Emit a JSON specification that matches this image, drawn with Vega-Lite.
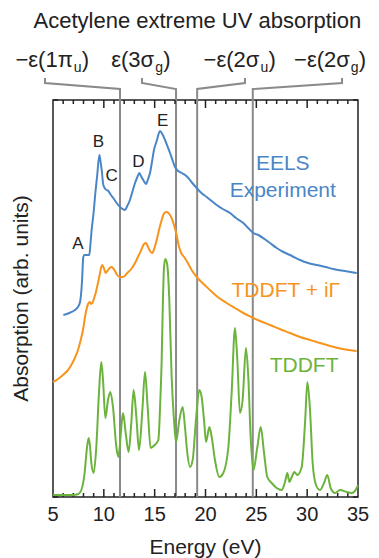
{
  "$schema": "https://vega.github.io/schema/vega-lite/v6.json",
  "width": 305,
  "height": 397,
  "autosize": {"type": "none"},
  "padding": {"left": 53, "top": 100, "right": 21, "bottom": 61},
  "config": {
    "font": "Liberation Sans",
    "view": {"stroke": "#222", "strokeWidth": 1.5},
    "axis": {"grid": false, "domainColor": "#222", "tickColor": "#222", "tickWidth": 1.5, "domainWidth": 1.5, "labelColor": "#222", "titleColor": "#222", "titleFontWeight": "normal", "labelFont": "Liberation Sans", "titleFont": "Liberation Sans"}
  },
  "datasets": {
    "curves": [
      {"series": "EELS", "E": 6.02, "A": 182}, {"series": "EELS", "E": 6.6, "A": 184}, {"series": "EELS", "E": 7.16, "A": 187}, {"series": "EELS", "E": 7.45, "A": 190}, {"series": "EELS", "E": 7.66, "A": 195}, {"series": "EELS", "E": 7.85, "A": 215}, {"series": "EELS", "E": 7.98, "A": 240}, {"series": "EELS", "E": 8.08, "A": 242}, {"series": "EELS", "E": 8.57, "A": 242}, {"series": "EELS", "E": 8.7, "A": 255}, {"series": "EELS", "E": 8.8, "A": 267}, {"series": "EELS", "E": 9.0, "A": 285}, {"series": "EELS", "E": 9.13, "A": 300}, {"series": "EELS", "E": 9.35, "A": 322}, {"series": "EELS", "E": 9.56, "A": 342}, {"series": "EELS", "E": 9.68, "A": 335}, {"series": "EELS", "E": 9.79, "A": 327}, {"series": "EELS", "E": 9.95, "A": 312}, {"series": "EELS", "E": 10.15, "A": 308}, {"series": "EELS", "E": 10.44, "A": 306}, {"series": "EELS", "E": 10.7, "A": 302}, {"series": "EELS", "E": 10.93, "A": 299}, {"series": "EELS", "E": 11.26, "A": 294}, {"series": "EELS", "E": 11.59, "A": 290}, {"series": "EELS", "E": 11.85, "A": 288}, {"series": "EELS", "E": 12.08, "A": 287}, {"series": "EELS", "E": 12.3, "A": 291}, {"series": "EELS", "E": 12.57, "A": 297}, {"series": "EELS", "E": 12.8, "A": 305}, {"series": "EELS", "E": 13.07, "A": 314}, {"series": "EELS", "E": 13.3, "A": 320}, {"series": "EELS", "E": 13.49, "A": 324}, {"series": "EELS", "E": 13.7, "A": 320}, {"series": "EELS", "E": 13.88, "A": 317}, {"series": "EELS", "E": 14.15, "A": 313}, {"series": "EELS", "E": 14.35, "A": 318}, {"series": "EELS", "E": 14.54, "A": 324}, {"series": "EELS", "E": 14.75, "A": 336}, {"series": "EELS", "E": 14.93, "A": 347}, {"series": "EELS", "E": 15.2, "A": 356}, {"series": "EELS", "E": 15.52, "A": 366}, {"series": "EELS", "E": 15.75, "A": 363}, {"series": "EELS", "E": 16.02, "A": 357}, {"series": "EELS", "E": 16.25, "A": 351}, {"series": "EELS", "E": 16.51, "A": 344}, {"series": "EELS", "E": 16.75, "A": 337}, {"series": "EELS", "E": 17.0, "A": 330}, {"series": "EELS", "E": 17.3, "A": 326}, {"series": "EELS", "E": 17.66, "A": 324}, {"series": "EELS", "E": 18.0, "A": 322}, {"series": "EELS", "E": 18.31, "A": 319}, {"series": "EELS", "E": 18.7, "A": 314}, {"series": "EELS", "E": 19.13, "A": 309}, {"series": "EELS", "E": 19.6, "A": 304}, {"series": "EELS", "E": 20.12, "A": 300}, {"series": "EELS", "E": 20.6, "A": 296}, {"series": "EELS", "E": 21.1, "A": 292}, {"series": "EELS", "E": 21.7, "A": 288}, {"series": "EELS", "E": 22.41, "A": 284}, {"series": "EELS", "E": 23.0, "A": 279}, {"series": "EELS", "E": 23.72, "A": 274}, {"series": "EELS", "E": 24.2, "A": 269}, {"series": "EELS", "E": 24.7, "A": 264}, {"series": "EELS", "E": 25.2, "A": 262}, {"series": "EELS", "E": 25.8, "A": 258}, {"series": "EELS", "E": 26.34, "A": 254}, {"series": "EELS", "E": 27.0, "A": 249}, {"series": "EELS", "E": 27.66, "A": 245}, {"series": "EELS", "E": 28.5, "A": 241}, {"series": "EELS", "E": 29.3, "A": 237}, {"series": "EELS", "E": 30.1, "A": 234}, {"series": "EELS", "E": 30.93, "A": 232}, {"series": "EELS", "E": 31.8, "A": 230}, {"series": "EELS", "E": 32.57, "A": 228}, {"series": "EELS", "E": 33.7, "A": 226}, {"series": "EELS", "E": 34.87, "A": 224},

      {"series": "TDDFT+iG", "E": 5.0, "A": 115}, {"series": "TDDFT+iG", "E": 5.5, "A": 118}, {"series": "TDDFT+iG", "E": 5.98, "A": 122}, {"series": "TDDFT+iG", "E": 6.4, "A": 126}, {"series": "TDDFT+iG", "E": 6.8, "A": 132}, {"series": "TDDFT+iG", "E": 7.15, "A": 139}, {"series": "TDDFT+iG", "E": 7.46, "A": 147}, {"series": "TDDFT+iG", "E": 7.75, "A": 158}, {"series": "TDDFT+iG", "E": 7.95, "A": 167}, {"series": "TDDFT+iG", "E": 8.15, "A": 180}, {"series": "TDDFT+iG", "E": 8.28, "A": 187}, {"series": "TDDFT+iG", "E": 8.45, "A": 193}, {"series": "TDDFT+iG", "E": 8.61, "A": 195}, {"series": "TDDFT+iG", "E": 8.75, "A": 193}, {"series": "TDDFT+iG", "E": 8.87, "A": 194}, {"series": "TDDFT+iG", "E": 9.05, "A": 199}, {"series": "TDDFT+iG", "E": 9.2, "A": 204}, {"series": "TDDFT+iG", "E": 9.4, "A": 213}, {"series": "TDDFT+iG", "E": 9.59, "A": 222}, {"series": "TDDFT+iG", "E": 9.75, "A": 230}, {"series": "TDDFT+iG", "E": 9.85, "A": 232}, {"series": "TDDFT+iG", "E": 10.0, "A": 229}, {"series": "TDDFT+iG", "E": 10.18, "A": 224}, {"series": "TDDFT+iG", "E": 10.35, "A": 226}, {"series": "TDDFT+iG", "E": 10.57, "A": 229}, {"series": "TDDFT+iG", "E": 10.75, "A": 230}, {"series": "TDDFT+iG", "E": 10.9, "A": 229}, {"series": "TDDFT+iG", "E": 11.1, "A": 226}, {"series": "TDDFT+iG", "E": 11.3, "A": 222}, {"series": "TDDFT+iG", "E": 11.6, "A": 220}, {"series": "TDDFT+iG", "E": 11.9, "A": 220}, {"series": "TDDFT+iG", "E": 12.3, "A": 224}, {"series": "TDDFT+iG", "E": 12.7, "A": 228}, {"series": "TDDFT+iG", "E": 13.07, "A": 234}, {"series": "TDDFT+iG", "E": 13.4, "A": 241}, {"series": "TDDFT+iG", "E": 13.72, "A": 248}, {"series": "TDDFT+iG", "E": 13.95, "A": 253}, {"series": "TDDFT+iG", "E": 14.15, "A": 254}, {"series": "TDDFT+iG", "E": 14.35, "A": 250}, {"series": "TDDFT+iG", "E": 14.54, "A": 246}, {"series": "TDDFT+iG", "E": 14.75, "A": 244}, {"series": "TDDFT+iG", "E": 14.95, "A": 248}, {"series": "TDDFT+iG", "E": 15.2, "A": 257}, {"series": "TDDFT+iG", "E": 15.45, "A": 268}, {"series": "TDDFT+iG", "E": 15.69, "A": 277}, {"series": "TDDFT+iG", "E": 15.95, "A": 284}, {"series": "TDDFT+iG", "E": 16.18, "A": 285}, {"series": "TDDFT+iG", "E": 16.45, "A": 283}, {"series": "TDDFT+iG", "E": 16.67, "A": 279}, {"series": "TDDFT+iG", "E": 16.9, "A": 272}, {"series": "TDDFT+iG", "E": 17.16, "A": 262}, {"series": "TDDFT+iG", "E": 17.4, "A": 250}, {"series": "TDDFT+iG", "E": 17.66, "A": 243}, {"series": "TDDFT+iG", "E": 17.9, "A": 240}, {"series": "TDDFT+iG", "E": 18.15, "A": 236}, {"series": "TDDFT+iG", "E": 18.64, "A": 227}, {"series": "TDDFT+iG", "E": 19.13, "A": 220}, {"series": "TDDFT+iG", "E": 19.8, "A": 213}, {"series": "TDDFT+iG", "E": 20.44, "A": 207}, {"series": "TDDFT+iG", "E": 21.2, "A": 200}, {"series": "TDDFT+iG", "E": 22.08, "A": 194}, {"series": "TDDFT+iG", "E": 22.9, "A": 189}, {"series": "TDDFT+iG", "E": 23.72, "A": 184}, {"series": "TDDFT+iG", "E": 24.5, "A": 180}, {"series": "TDDFT+iG", "E": 25.36, "A": 176}, {"series": "TDDFT+iG", "E": 26.35, "A": 172}, {"series": "TDDFT+iG", "E": 27.3, "A": 168}, {"series": "TDDFT+iG", "E": 28.31, "A": 164}, {"series": "TDDFT+iG", "E": 29.3, "A": 160}, {"series": "TDDFT+iG", "E": 30.28, "A": 157}, {"series": "TDDFT+iG", "E": 31.25, "A": 154}, {"series": "TDDFT+iG", "E": 32.25, "A": 151}, {"series": "TDDFT+iG", "E": 33.5, "A": 148}, {"series": "TDDFT+iG", "E": 34.87, "A": 146},

      {"series": "TDDFT", "E": 5.0, "A": 2}, {"series": "TDDFT", "E": 6.97, "A": 2}, {"series": "TDDFT", "E": 7.5, "A": 3}, {"series": "TDDFT", "E": 7.79, "A": 7}, {"series": "TDDFT", "E": 8.11, "A": 24}, {"series": "TDDFT", "E": 8.35, "A": 50}, {"series": "TDDFT", "E": 8.51, "A": 59}, {"series": "TDDFT", "E": 8.65, "A": 50}, {"series": "TDDFT", "E": 8.77, "A": 34}, {"series": "TDDFT", "E": 9.0, "A": 24}, {"series": "TDDFT", "E": 9.26, "A": 50}, {"series": "TDDFT", "E": 9.52, "A": 104}, {"series": "TDDFT", "E": 9.75, "A": 135}, {"series": "TDDFT", "E": 9.92, "A": 117}, {"series": "TDDFT", "E": 10.15, "A": 79}, {"series": "TDDFT", "E": 10.41, "A": 97}, {"series": "TDDFT", "E": 10.64, "A": 105}, {"series": "TDDFT", "E": 10.9, "A": 90}, {"series": "TDDFT", "E": 11.23, "A": 50}, {"series": "TDDFT", "E": 11.43, "A": 40}, {"series": "TDDFT", "E": 11.6, "A": 55}, {"series": "TDDFT", "E": 11.72, "A": 70}, {"series": "TDDFT", "E": 11.89, "A": 84}, {"series": "TDDFT", "E": 12.15, "A": 64}, {"series": "TDDFT", "E": 12.44, "A": 45}, {"series": "TDDFT", "E": 12.7, "A": 74}, {"series": "TDDFT", "E": 12.93, "A": 107}, {"series": "TDDFT", "E": 13.2, "A": 80}, {"series": "TDDFT", "E": 13.46, "A": 47}, {"series": "TDDFT", "E": 13.79, "A": 87}, {"series": "TDDFT", "E": 14.05, "A": 125}, {"series": "TDDFT", "E": 14.31, "A": 90}, {"series": "TDDFT", "E": 14.6, "A": 49}, {"series": "TDDFT", "E": 15.0, "A": 52}, {"series": "TDDFT", "E": 15.36, "A": 57}, {"series": "TDDFT", "E": 15.55, "A": 95}, {"series": "TDDFT", "E": 15.69, "A": 137}, {"series": "TDDFT", "E": 15.82, "A": 200}, {"series": "TDDFT", "E": 15.92, "A": 230}, {"series": "TDDFT", "E": 16.05, "A": 238}, {"series": "TDDFT", "E": 16.24, "A": 232}, {"series": "TDDFT", "E": 16.44, "A": 197}, {"series": "TDDFT", "E": 16.67, "A": 120}, {"series": "TDDFT", "E": 16.9, "A": 77}, {"series": "TDDFT", "E": 17.1, "A": 55}, {"series": "TDDFT", "E": 17.43, "A": 77}, {"series": "TDDFT", "E": 17.75, "A": 90}, {"series": "TDDFT", "E": 17.98, "A": 70}, {"series": "TDDFT", "E": 18.21, "A": 44}, {"series": "TDDFT", "E": 18.47, "A": 30}, {"series": "TDDFT", "E": 18.74, "A": 37}, {"series": "TDDFT", "E": 19.06, "A": 77}, {"series": "TDDFT", "E": 19.39, "A": 107}, {"series": "TDDFT", "E": 19.62, "A": 100}, {"series": "TDDFT", "E": 19.88, "A": 74}, {"series": "TDDFT", "E": 20.05, "A": 55}, {"series": "TDDFT", "E": 20.38, "A": 70}, {"series": "TDDFT", "E": 20.61, "A": 60}, {"series": "TDDFT", "E": 20.93, "A": 37}, {"series": "TDDFT", "E": 21.36, "A": 20}, {"series": "TDDFT", "E": 21.75, "A": 24}, {"series": "TDDFT", "E": 22.25, "A": 50}, {"series": "TDDFT", "E": 22.57, "A": 104}, {"series": "TDDFT", "E": 22.9, "A": 169}, {"series": "TDDFT", "E": 23.13, "A": 137}, {"series": "TDDFT", "E": 23.39, "A": 84}, {"series": "TDDFT", "E": 23.65, "A": 97}, {"series": "TDDFT", "E": 23.98, "A": 149}, {"series": "TDDFT", "E": 24.21, "A": 120}, {"series": "TDDFT", "E": 24.44, "A": 60}, {"series": "TDDFT", "E": 24.71, "A": 27}, {"series": "TDDFT", "E": 25.1, "A": 50}, {"series": "TDDFT", "E": 25.43, "A": 70}, {"series": "TDDFT", "E": 25.76, "A": 44}, {"series": "TDDFT", "E": 26.08, "A": 20}, {"series": "TDDFT", "E": 26.51, "A": 14}, {"series": "TDDFT", "E": 27.0, "A": 9}, {"series": "TDDFT", "E": 27.5, "A": 7}, {"series": "TDDFT", "E": 27.82, "A": 15}, {"series": "TDDFT", "E": 28.05, "A": 24}, {"series": "TDDFT", "E": 28.25, "A": 15}, {"series": "TDDFT", "E": 28.48, "A": 20}, {"series": "TDDFT", "E": 28.74, "A": 25}, {"series": "TDDFT", "E": 29.03, "A": 22}, {"series": "TDDFT", "E": 29.46, "A": 30}, {"series": "TDDFT", "E": 29.79, "A": 74}, {"series": "TDDFT", "E": 30.02, "A": 115}, {"series": "TDDFT", "E": 30.28, "A": 87}, {"series": "TDDFT", "E": 30.54, "A": 34}, {"series": "TDDFT", "E": 30.87, "A": 12}, {"series": "TDDFT", "E": 31.26, "A": 7}, {"series": "TDDFT", "E": 31.66, "A": 14}, {"series": "TDDFT", "E": 31.98, "A": 22}, {"series": "TDDFT", "E": 32.31, "A": 9}, {"series": "TDDFT", "E": 32.74, "A": 4}, {"series": "TDDFT", "E": 33.23, "A": 7}, {"series": "TDDFT", "E": 33.89, "A": 5}, {"series": "TDDFT", "E": 34.38, "A": 4}, {"series": "TDDFT", "E": 34.87, "A": 9}, {"series": "TDDFT", "E": 35.0, "A": 12}
    ],
    "brackets": [
      {"level": "1πu", "step": 1, "E": 4.21, "A": 419}, {"level": "1πu", "step": 2, "E": 4.21, "A": 414}, {"level": "1πu", "step": 3, "E": 11.59, "A": 408}, {"level": "1πu", "step": 4, "E": 11.59, "A": 0},
      {"level": "3σg", "step": 1, "E": 13.75, "A": 419}, {"level": "3σg", "step": 2, "E": 13.75, "A": 414}, {"level": "3σg", "step": 3, "E": 17.1, "A": 408}, {"level": "3σg", "step": 4, "E": 17.1, "A": 0},
      {"level": "2σu", "step": 1, "E": 23.88, "A": 419}, {"level": "2σu", "step": 2, "E": 23.88, "A": 414}, {"level": "2σu", "step": 3, "E": 19.18, "A": 408}, {"level": "2σu", "step": 4, "E": 19.18, "A": 0},
      {"level": "2σg", "step": 1, "E": 33.43, "A": 419}, {"level": "2σg", "step": 2, "E": 33.43, "A": 414}, {"level": "2σg", "step": 3, "E": 24.65, "A": 408}, {"level": "2σg", "step": 4, "E": 24.65, "A": 0}
    ],
    "majorticks": [{"E": 10}, {"E": 15}, {"E": 20}, {"E": 25}, {"E": 30}],
    "minorticks": [{"E": 6}, {"E": 7}, {"E": 8}, {"E": 9}, {"E": 11}, {"E": 12}, {"E": 13}, {"E": 14}, {"E": 16}, {"E": 17}, {"E": 18}, {"E": 19}, {"E": 21}, {"E": 22}, {"E": 23}, {"E": 24}, {"E": 26}, {"E": 27}, {"E": 28}, {"E": 29}, {"E": 31}, {"E": 32}, {"E": 33}, {"E": 34}],
    "yends": [{"A": 0}, {"A": 397}],
    "ticklabels": [{"E": 5, "label": "5", "A": -18}, {"E": 10, "label": "10", "A": -18}, {"E": 15, "label": "15", "A": -18}, {"E": 20, "label": "20", "A": -18}, {"E": 25, "label": "25", "A": -18}, {"E": 30, "label": "30", "A": -18}, {"E": 35, "label": "35", "A": -18}],
    "xtitle": [{"text": "Energy (eV)", "E": 20, "A": -51}],
    "ytitle": [{"text": "Absorption (arb. units)", "E": 1.95, "A": 198.5}],
    "ionlabels": [
      {"main": "−ε(1π", "sub": "u", "E": 6.95, "A": 430},
      {"main": "ε(3σ", "sub": "g", "E": 14.95, "A": 430},
      {"main": "−ε(2σ", "sub": "u", "E": 25.3, "A": 430},
      {"main": "−ε(2σ", "sub": "g", "E": 34.2, "A": 430}
    ],
    "serieslabels": [
      {"series": "EELS", "text": "EELS", "E": 27.6, "A": 327},
      {"series": "EELS", "text": "Experiment", "E": 27.6, "A": 300},
      {"series": "TDDFT+iG", "text": "TDDFT + iΓ", "E": 27.9, "A": 200},
      {"series": "TDDFT", "text": "TDDFT", "E": 29.7, "A": 125}
    ],
    "peaks": [
      {"text": "A", "E": 7.46, "A": 248},
      {"text": "B", "E": 9.46, "A": 350},
      {"text": "C", "E": 10.77, "A": 316},
      {"text": "D", "E": 13.39, "A": 330},
      {"text": "E", "E": 15.79, "A": 371}
    ],
    "title": [
      {"text": "Acetylene extreme UV absorption", "E": 19.2, "A": 469}
    ]
  },
  "layer": [
    {
      "data": {"name": "brackets"},
      "mark": {"type": "line", "color": "#8a8a8a", "strokeWidth": 2},
      "encoding": {
        "x": {"field": "E", "type": "quantitative", "scale": {"domain": [5, 35], "nice": false, "zero": false},
          "axis": {"orient": "bottom", "ticks": false, "labels": false, "domain": false, "title": null}},
        "y": {"field": "A", "type": "quantitative", "scale": {"domain": [0, 397], "nice": false, "zero": false},
          "axis": {"orient": "left", "ticks": false, "labels": false, "domain": false, "title": null}},
        "detail": {"field": "level"},
        "order": {"field": "step"}
      }
    },
    {
      "data": {"name": "majorticks"},
      "mark": {"type": "rule", "color": "#222", "strokeWidth": 1.5},
      "encoding": {
        "x": {"field": "E", "type": "quantitative", "axis": null},
        "y": {"datum": 0, "type": "quantitative", "axis": null},
        "y2": {"datum": 8}
      }
    },
    {
      "data": {"name": "majorticks"},
      "mark": {"type": "rule", "color": "#222", "strokeWidth": 1.5},
      "encoding": {
        "x": {"field": "E", "type": "quantitative", "axis": null},
        "y": {"datum": 397, "type": "quantitative", "axis": null},
        "y2": {"datum": 389}
      }
    },
    {
      "data": {"name": "minorticks"},
      "mark": {"type": "rule", "color": "#222", "strokeWidth": 1.5},
      "encoding": {
        "x": {"field": "E", "type": "quantitative", "axis": null},
        "y": {"datum": 0, "type": "quantitative", "axis": null},
        "y2": {"datum": 4}
      }
    },
    {
      "data": {"name": "minorticks"},
      "mark": {"type": "rule", "color": "#222", "strokeWidth": 1.5},
      "encoding": {
        "x": {"field": "E", "type": "quantitative", "axis": null},
        "y": {"datum": 397, "type": "quantitative", "axis": null},
        "y2": {"datum": 393}
      }
    },
    {
      "data": {"name": "yends"},
      "mark": {"type": "rule", "color": "#222", "strokeWidth": 1.5},
      "encoding": {
        "y": {"field": "A", "type": "quantitative", "axis": null},
        "x": {"datum": 5, "type": "quantitative", "axis": null},
        "x2": {"datum": 5.5}
      }
    },
    {
      "data": {"name": "yends"},
      "mark": {"type": "rule", "color": "#222", "strokeWidth": 1.5},
      "encoding": {
        "y": {"field": "A", "type": "quantitative", "axis": null},
        "x": {"datum": 35, "type": "quantitative", "axis": null},
        "x2": {"datum": 34.5}
      }
    },
    {
      "data": {"name": "curves"},
      "mark": {"type": "line", "strokeWidth": 2, "interpolate": "monotone"},
      "encoding": {
        "x": {"field": "E", "type": "quantitative", "axis": null},
        "y": {"field": "A", "type": "quantitative", "axis": null},
        "color": {"field": "series", "type": "nominal", "scale": {"domain": ["EELS", "TDDFT+iG", "TDDFT"], "range": ["#4a86c6", "#f7941d", "#6cb33e"]}, "legend": null}
      }
    },
    {
      "data": {"name": "serieslabels"},
      "mark": {"type": "text", "fontSize": 21, "align": "center", "baseline": "alphabetic"},
      "encoding": {
        "x": {"field": "E", "type": "quantitative", "axis": null},
        "y": {"field": "A", "type": "quantitative", "axis": null},
        "text": {"field": "text"},
        "color": {"field": "series", "type": "nominal", "legend": null}
      }
    },
    {
      "data": {"name": "peaks"},
      "mark": {"type": "text", "fontSize": 17, "align": "center", "baseline": "alphabetic", "color": "#222"},
      "encoding": {
        "x": {"field": "E", "type": "quantitative", "axis": null},
        "y": {"field": "A", "type": "quantitative", "axis": null},
        "text": {"field": "text"}
      }
    },
    {
      "data": {"name": "ionlabels"},
      "mark": {"type": "text", "fontSize": 22, "align": "right", "baseline": "alphabetic", "color": "#222"},
      "encoding": {
        "x": {"field": "E", "type": "quantitative", "axis": null},
        "y": {"field": "A", "type": "quantitative", "axis": null},
        "text": {"field": "main"}
      }
    },
    {
      "data": {"name": "ionlabels"},
      "mark": {"type": "text", "fontSize": 14, "align": "left", "baseline": "alphabetic", "dx": 1, "dy": 5, "color": "#222"},
      "encoding": {
        "x": {"field": "E", "type": "quantitative", "axis": null},
        "y": {"field": "A", "type": "quantitative", "axis": null},
        "text": {"field": "sub"}
      }
    },
    {
      "data": {"name": "ionlabels"},
      "mark": {"type": "text", "fontSize": 22, "align": "left", "baseline": "alphabetic", "dx": 9, "color": "#222"},
      "encoding": {
        "x": {"field": "E", "type": "quantitative", "axis": null},
        "y": {"field": "A", "type": "quantitative", "axis": null},
        "text": {"value": ")"}
      }
    },
    {
      "data": {"name": "title"},
      "mark": {"type": "text", "fontSize": 22, "align": "center", "baseline": "alphabetic", "color": "#222"},
      "encoding": {
        "x": {"field": "E", "type": "quantitative", "axis": null},
        "y": {"field": "A", "type": "quantitative", "axis": null},
        "text": {"field": "text"}
      }
    },
    {
      "data": {"name": "ticklabels"},
      "mark": {"type": "text", "fontSize": 20, "align": "center", "baseline": "middle", "color": "#222"},
      "encoding": {
        "x": {"field": "E", "type": "quantitative", "axis": null},
        "y": {"field": "A", "type": "quantitative", "axis": null},
        "text": {"field": "label"}
      }
    },
    {
      "data": {"name": "xtitle"},
      "mark": {"type": "text", "fontSize": 21, "align": "center", "baseline": "middle", "color": "#222"},
      "encoding": {
        "x": {"field": "E", "type": "quantitative", "axis": null},
        "y": {"field": "A", "type": "quantitative", "axis": null},
        "text": {"field": "text"}
      }
    },
    {
      "data": {"name": "ytitle"},
      "mark": {"type": "text", "fontSize": 21, "align": "center", "baseline": "middle", "angle": 270, "color": "#222"},
      "encoding": {
        "x": {"field": "E", "type": "quantitative", "axis": null},
        "y": {"field": "A", "type": "quantitative", "axis": null},
        "text": {"field": "text"}
      }
    }
  ]
}
